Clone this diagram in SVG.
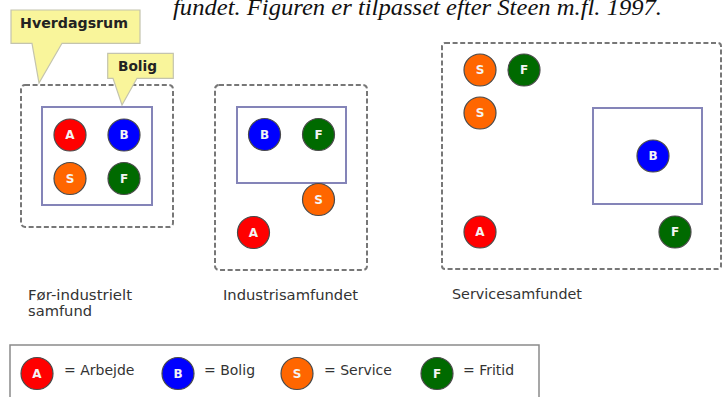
<svg xmlns="http://www.w3.org/2000/svg" width="723" height="397" viewBox="0 0 723 397">
  <style>
    .zone { fill: none; stroke: #777; stroke-width: 2; stroke-dasharray: 5 2.6; }
    .home { fill: none; stroke: #8484b8; stroke-width: 2; }
    .dot { stroke: #4a4a4a; stroke-width: 1.2; }
    .a { fill: #ff0000; }
    .b { fill: #0000ff; }
    .s { fill: #ff6600; }
    .f { fill: #006a00; }
    .letter { font-family: "DejaVu Sans", Verdana, sans-serif; font-weight: bold; font-size: 12px; fill: #f4f4f4; text-anchor: middle; }
    .label { font-family: "DejaVu Sans", Verdana, sans-serif; font-size: 14px; fill: #333; }
    .callout { fill: #f9f59b; stroke: #c4c4ae; stroke-width: 1.2; }
    .callout-text { font-family: "DejaVu Sans", Verdana, sans-serif; font-weight: bold; font-size: 13.5px; fill: #222; }
    .caption { font-family: "Liberation Serif", "Times New Roman", serif; font-style: italic; font-size: 24px; fill: #111; }
  </style>
  <defs>
    <g id="dotA"><circle class="dot a" r="16"/><text class="letter" y="4.3">A</text></g>
    <g id="dotB"><circle class="dot b" r="16"/><text class="letter" y="4.3">B</text></g>
    <g id="dotS"><circle class="dot s" r="16"/><text class="letter" y="4.3">S</text></g>
    <g id="dotF"><circle class="dot f" r="16"/><text class="letter" y="4.3">F</text></g>
  </defs>

  <rect width="723" height="397" fill="#fff"/>

  <!-- caption line (top clipped) -->
  <text class="caption" x="173" y="15" textLength="489" lengthAdjust="spacingAndGlyphs">fundet. Figuren er tilpasset efter Steen m.fl. 1997.</text>

  <!-- pre-industrial society -->
  <g id="pre-industrial">
    <rect class="zone" x="21" y="85" width="152" height="142" rx="4"/>
    <rect class="home" x="42" y="107" width="110" height="98"/>
    <use href="#dotA" x="70" y="135"/>
    <use href="#dotB" x="124" y="135"/>
    <use href="#dotS" x="70" y="178.5"/>
    <use href="#dotF" x="124" y="178.5"/>
    <text class="label" x="28" y="300" textLength="104" lengthAdjust="spacingAndGlyphs">Før-industrielt</text>
    <text class="label" x="28" y="316" textLength="64" lengthAdjust="spacingAndGlyphs">samfund</text>
  </g>

  <!-- industrial society -->
  <g id="industrial">
    <rect class="zone" x="215" y="85" width="152" height="185" rx="4"/>
    <rect class="home" x="237" y="107" width="109" height="76"/>
    <use href="#dotB" x="264.5" y="134.5"/>
    <use href="#dotF" x="318.5" y="134.5"/>
    <use href="#dotS" x="318.5" y="199.5"/>
    <use href="#dotA" x="253.5" y="232.5"/>
    <text class="label" x="223" y="300" textLength="135" lengthAdjust="spacingAndGlyphs">Industrisamfundet</text>
  </g>

  <!-- service society -->
  <g id="service">
    <rect class="zone" x="442" y="43" width="279" height="226" rx="3"/>
    <rect class="home" x="593" y="108" width="109" height="96"/>
    <use href="#dotS" x="480" y="70"/>
    <use href="#dotF" x="524" y="70"/>
    <use href="#dotS" x="480" y="113"/>
    <use href="#dotB" x="653" y="156"/>
    <use href="#dotA" x="480" y="232"/>
    <use href="#dotF" x="675" y="232"/>
    <text class="label" x="452" y="299" textLength="130" lengthAdjust="spacingAndGlyphs">Servicesamfundet</text>
  </g>

  <!-- callouts -->
  <g id="callout-hverdagsrum">
    <path class="callout" d="M11,10 H140 V43.3 H62 L39,83 L32,43.3 H11 Z"/>
    <text class="callout-text" x="20" y="28" textLength="108" lengthAdjust="spacingAndGlyphs">Hverdagsrum</text>
  </g>
  <g id="callout-bolig">
    <path class="callout" d="M107.7,53.3 H173.3 V78.3 H137 L122,105 L113,78.3 H107.7 Z"/>
    <text class="callout-text" x="118" y="71" textLength="39" lengthAdjust="spacingAndGlyphs">Bolig</text>
  </g>

  <g id="connectors"/>

  <!-- legend -->
  <g id="legend">
    <rect x="10" y="345" width="529" height="60" fill="none" stroke="#8a8a8a" stroke-width="1.5"/>
    <use href="#dotA" x="37" y="373.5"/>
    <text class="label" x="64" y="375">= Arbejde</text>
    <use href="#dotB" x="178" y="373.5"/>
    <text class="label" x="204" y="375">= Bolig</text>
    <use href="#dotS" x="297" y="373.5"/>
    <text class="label" x="324" y="375">= Service</text>
    <use href="#dotF" x="437" y="373.5"/>
    <text class="label" x="463" y="375">= Fritid</text>
  </g>
</svg>
